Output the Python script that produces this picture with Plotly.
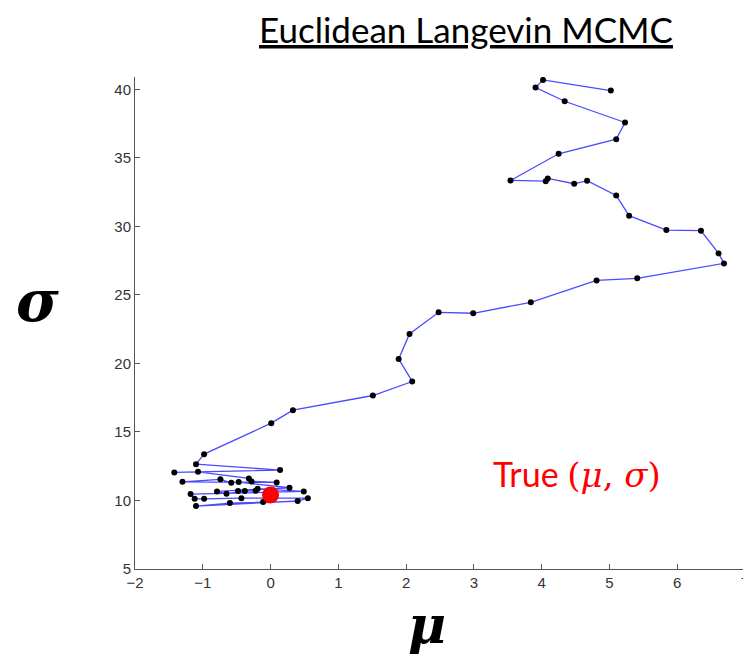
import plotly.graph_objects as go

# Chain samples (mu, sigma), in path order
mu_samples = [5.02, 4.02, 3.91, 4.34, 5.23, 5.10, 4.25, 3.54, 4.06, 4.09, 4.48, 4.67,
              5.10, 5.29, 5.84, 6.35, 6.61, 6.69, 5.41, 4.81, 3.84, 2.99, 2.48, 2.05,
              1.89, 2.09, 1.51, 0.33, 0.01, -0.98, -1.10, 0.14, -1.42, -1.07, -0.32,
              -0.28, 0.09, -1.30, -0.74, -0.58, -0.47, 0.28, -0.79, -0.65, -0.38, -0.48,
              -0.22, -0.19, 0.49, -1.18, -1.12, -0.98, -0.43, 0.55, 0.40, -1.10, -0.60,
              -0.11]
sigma_samples = [39.91, 40.69, 40.13, 39.13, 37.58, 36.36, 35.30, 33.35, 33.30, 33.50,
                 33.11, 33.33, 32.26, 30.78, 29.73, 29.69, 28.03, 27.30, 26.21, 26.06,
                 24.46, 23.66, 23.73, 22.15, 20.33, 18.68, 17.66, 16.59, 15.64, 13.38,
                 12.65, 12.22, 12.05, 12.09, 11.61, 11.39, 11.32, 11.36, 11.54, 11.29,
                 11.34, 10.93, 10.66, 10.49, 10.69, 10.69, 10.71, 10.85, 10.66, 10.47,
                 10.12, 10.12, 10.17, 10.17, 9.96, 9.59, 9.81, 9.88]

true_mu = [0.0]
true_sigma = [10.4]

x_ticks = [-2, -1, 0, 1, 2, 3, 4, 5, 6, 7]
y_ticks = [5, 10, 15, 20, 25, 30, 35, 40]

fig = go.Figure()
fig.add_trace(go.Scatter(
    x=mu_samples, y=sigma_samples, mode="lines+markers",
    line=dict(color="#4a4aff", width=1.3),
    marker=dict(color="black", size=6),
    showlegend=False, hoverinfo="skip"))
fig.add_trace(go.Scatter(
    x=true_mu, y=true_sigma, mode="markers",
    marker=dict(color="#ff0000", size=17),
    showlegend=False, hoverinfo="skip"))

axis_common = dict(showgrid=False, zeroline=False, showline=True,
                   linecolor="#555555", linewidth=1, ticks="inside", ticklen=5,
                   tickcolor="#555555", mirror=False, ticklabeloverflow="allow",
                   tickfont=dict(family="Liberation Sans, Arial", size=15, color="#333333"))

math = '<span style="font-family:DejaVu Serif">({})</span>'.format("<i>μ</i>, <i>σ</i>")

fig.update_layout(
    width=743, height=646,
    margin=dict(l=127, r=2, t=69, b=85),
    paper_bgcolor="white", plot_bgcolor="white",
    xaxis=dict(range=[-2, 7], tickvals=x_ticks, **axis_common),
    yaxis=dict(range=[5, 40.9], tickvals=y_ticks, **axis_common),
    annotations=[
        dict(text="<u>Euclidean Langevin MCMC</u>", xref="paper", yref="paper",
             x=0.542, y=1.097, xanchor="center", yanchor="middle", showarrow=False,
             font=dict(family="Lato, Open Sans", size=35, color="black")),
        dict(text="True " + math, xref="paper", yref="paper",
             x=0.724, y=0.193, xanchor="center", yanchor="middle", showarrow=False,
             font=dict(family="Lato, Open Sans", size=34, color="#ff0000")),
        dict(text="<b><i>σ</i></b>", xref="paper", yref="paper",
             x=-0.16, y=0.545, xanchor="center", yanchor="middle", showarrow=False,
             font=dict(family="DejaVu Serif, Liberation Serif", size=58, color="black")),
        dict(text="<b><i>μ</i></b>", xref="paper", yref="paper",
             x=0.478, y=-0.112, xanchor="center", yanchor="middle", showarrow=False,
             font=dict(family="DejaVu Serif, Liberation Serif", size=52, color="black")),
    ],
)

fig.write_html("out.html")
